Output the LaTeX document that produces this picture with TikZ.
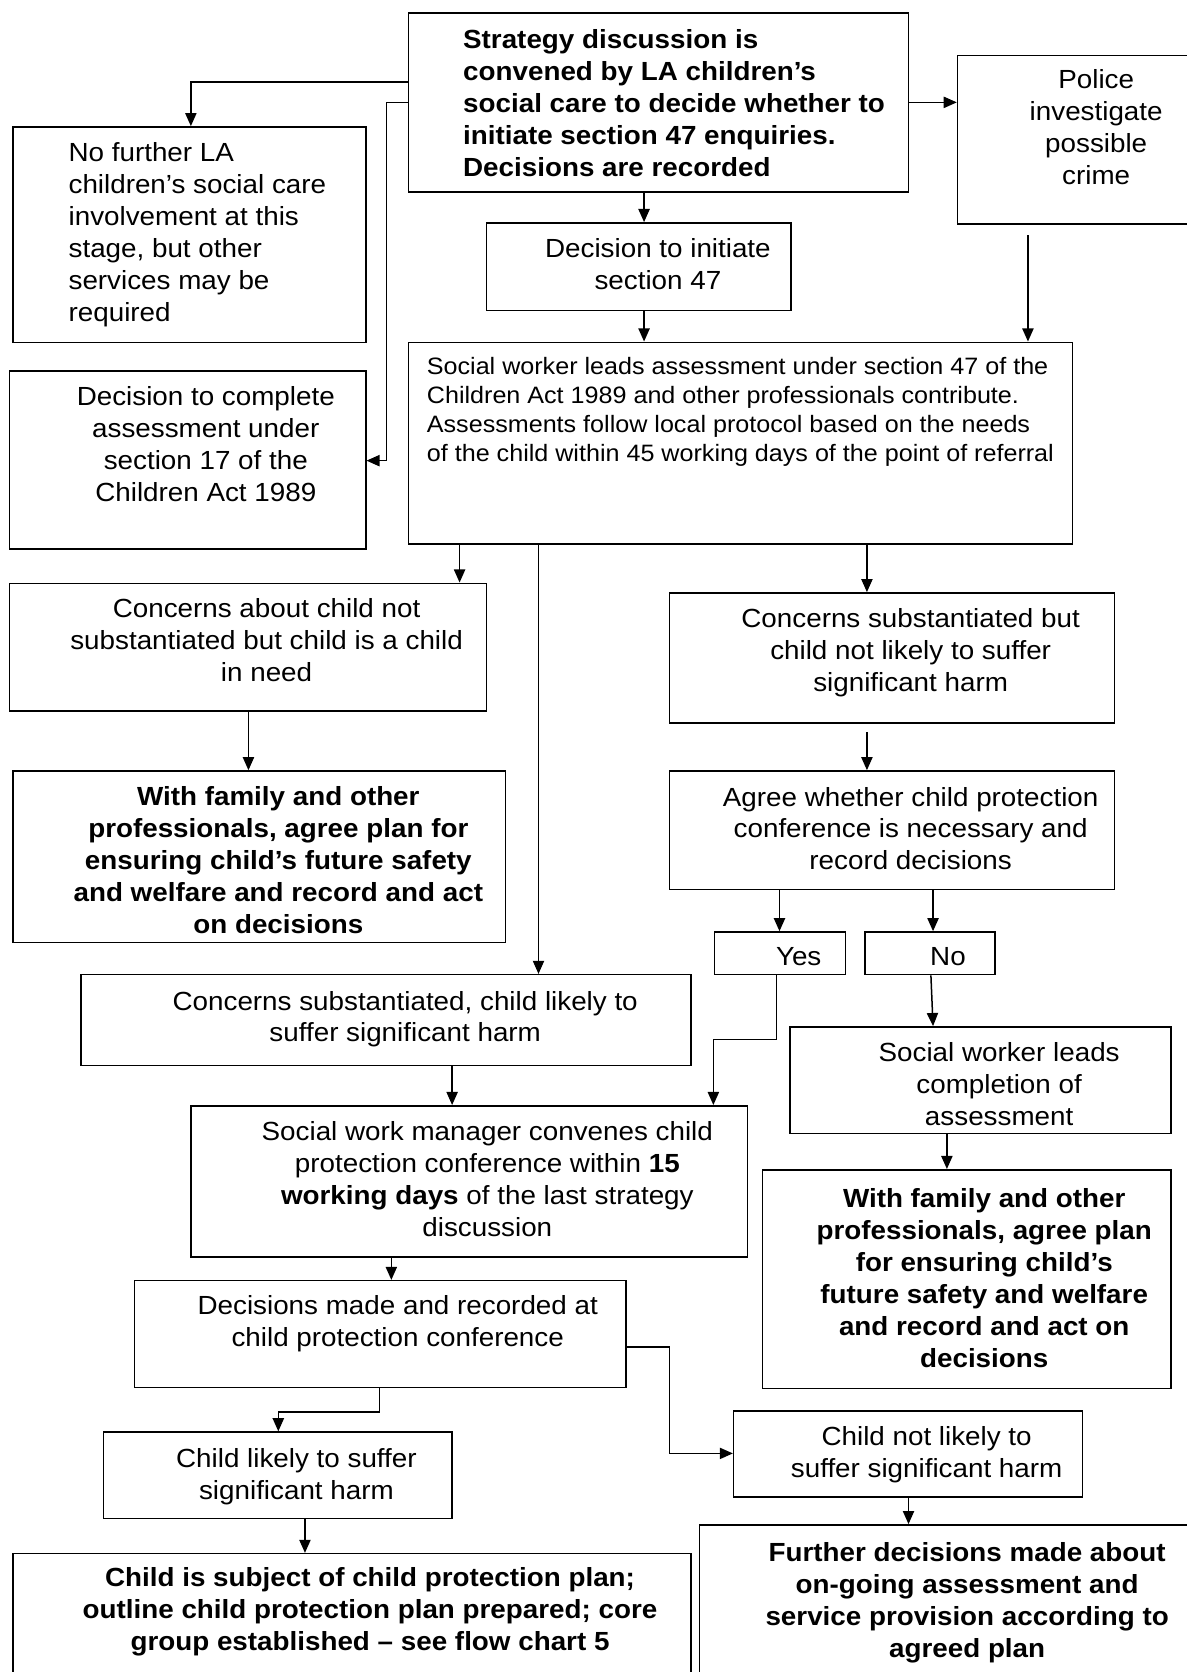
\documentclass[tikz,border=0pt]{standalone}
\usepackage{fontspec}
\setmainfont{Liberation Sans}[FakeStretch=1.06]
\usetikzlibrary{arrows.meta,fit}
\begin{document}
\begin{tikzpicture}[x=0.02cm,y=-0.02cm,
  box/.style={draw, line width=0.8pt, inner sep=0pt, rectangle},
  txt/.style={inner sep=0pt, anchor=north, align=center, font=\fontsize{14}{17.07}\selectfont},
  btxt/.style={txt, font=\fontsize{14}{17.07}\selectfont\bfseries},
  stxt/.style={inner sep=0pt, anchor=north west, align=left, font=\fontsize{12.65}{15.36}\selectfont},
  arr/.style={-{Triangle[length=7pt,width=6pt]}, line width=0.8pt}]
\fill[white] (0,0) rectangle (1113,1568);
\useasboundingbox (0,0) rectangle (1113,1568);

% boxes
\node[box, fit={(383,12) (852,180)}] (S) {};
\node[box, fit={(898,52) (1130,210)}] (P) {};
\node[box, fit={(12,119) (343,321)}] (NF) {};
\node[box, fit={(456,209) (742,291)}] (D47) {};
\node[box, fit={(9,348) (343,515)}] (D17) {};
\node[box, fit={(383,321) (1006,510)}] (SW) {};
\node[box, fit={(9,547) (456,667)}] (CN) {};
\node[box, fit={(628,556) (1045,678)}] (CB) {};
\node[box, fit={(12,723) (474,884)}] (WF1) {};
\node[box, fit={(628,723) (1045,834)}] (AG) {};
\node[box, fit={(670,874) (793,914)}] (Yes) {};
\node[box, fit={(811,874) (933,914)}] (No) {};
\node[box, fit={(76,914) (648,999)}] (CS) {};
\node[box, fit={(741,963) (1098,1063)}] (SWC) {};
\node[box, fit={(179,1037) (701,1179)}] (SWM) {};
\node[box, fit={(715,1097) (1098,1302)}] (WF2) {};
\node[box, fit={(126,1201) (587,1301)}] (DM) {};
\node[box, fit={(688,1323) (1015,1404)}] (CNL) {};
\node[box, fit={(97,1343) (424,1424)}] (CL) {};
\node[box, fit={(12,1457) (648,1590)}] (CP) {};
\node[box, fit={(656,1430) (1130,1590)}] (FD) {};

% texts
\node[btxt, anchor=north west, align=left] (S-t) at (434,27) {Strategy discussion is\\convened by LA children’s\\social care to decide whether to\\initiate section 47 enquiries.\\Decisions are recorded};
\node[txt] (P-t) at (1028,65) {Police\\investigate\\possible\\crime};
\node[txt, anchor=north west, align=left] (NF-t) at (64,133) {No further LA\\children’s social care\\involvement at this\\stage, but other\\services may be\\required};
\node[txt] (D47-t) at (617,223) {Decision to initiate\\section 47};
\node[txt] (D17-t) at (193,362) {Decision to complete\\assessment under\\section 17 of the\\Children Act 1989};
\node[stxt] (SW-t) at (400,335) {Social worker leads assessment under section 47 of the\\Children Act 1989 and other professionals contribute.\\Assessments follow local protocol based on the needs\\of the child within 45 working days of the point of referral};
\node[txt] (CN-t) at (250,561) {Concerns about child not\\substantiated but child is a child\\in need};
\node[txt] (CB-t) at (854,570) {Concerns substantiated but\\child not likely to suffer\\significant harm};
\node[btxt] (WF1-t) at (261,737) {With family and other\\professionals, agree plan for\\ensuring child’s future safety\\and welfare and record and act\\on decisions};
\node[txt, font=\fontsize{14}{16.8}\selectfont] (AG-t) at (854,738) {Agree whether child protection\\conference is necessary and\\record decisions};
\node[txt] (Yes-t) at (749,888) {Yes};
\node[txt] (No-t) at (889,888) {No};
\node[txt] (CS-t) at (380,929) {Concerns substantiated, child likely to\\suffer significant harm};
\node[txt] (SWC-t) at (937,977) {Social worker leads\\completion of\\assessment};
\node[txt] (SWM-t) at (457,1051) {Social work manager convenes child\\protection conference within \textbf{15}\\\textbf{working days} of the last strategy\\discussion};
\node[btxt] (WF2-t) at (923,1114) {With family and other\\professionals, agree plan\\for ensuring child’s\\future safety and welfare\\and record and act on\\decisions};
\node[txt] (DM-t) at (373,1215) {Decisions made and recorded at\\child protection conference};
\node[txt] (CNL-t) at (869,1337) {Child not likely to\\suffer significant harm};
\node[txt] (CL-t) at (278,1358) {Child likely to suffer\\significant harm};
\node[btxt] (CP-t) at (347,1470) {Child is subject of child protection plan;\\outline child protection plan prepared; core\\group established – see flow chart 5};
\node[btxt] (FD-t) at (907,1446) {Further decisions made about\\on-going assessment and\\service provision according to\\agreed plan};

% connectors
\draw[arr] (S.west |- 0,77) -| (NF.north -| 179,0);
\draw[arr] (S.west |- 0,96) -- ++(-20,0) |- (D17.east |- 0,432);
\draw[arr] (S.east |- 0,96) -- (P.west |- 0,96);
\draw[arr] (S.south -| 604,0) -- (D47.north -| 604,0);
\draw[arr] (D47.south -| 604,0) -- (SW.north -| 604,0);
\draw[arr] (P.south -| 964,0) ++(0,10) -- (SW.north -| 964,0);
\draw[arr] (SW.south -| 431,0) -- (CN.north -| 431,0);
\draw[arr] (SW.south -| 505,0) -- (CS.north -| 505,0);
\draw[arr] (SW.south -| 813,0) -- (CB.north -| 813,0);
\draw[arr] (CN.south -| 233,0) -- (WF1.north -| 233,0);
\draw[arr] (CB.south -| 813,0) ++(0,8) -- (AG.north -| 813,0);
\draw[arr] (AG.south -| 731,0) -- (Yes.north -| 731,0);
\draw[arr] (AG.south -| 875,0) -- (No.north -| 875,0);
\draw[arr] (Yes.south -| 728,0) |- (669,975) -- (SWM.north -| 669,0);
\draw[arr] (No.south -| 873,0) -- (SWC.north -| 875,0);
\draw[arr] (CS.south -| 424,0) -- (SWM.north -| 424,0);
\draw[arr] (SWC.south -| 888,0) -- (WF2.north -| 888,0);
\draw[arr] (SWM.south -| 367,0) -- (DM.north -| 367,0);
\draw[arr] (DM.east |- 0,1263) -| (628,1363) -- (CNL.west |- 0,1363);
\draw[arr] (DM.south -| 356,0) |- (261,1324) -- (CL.north -| 261,0);
\draw[arr] (CL.south -| 286,0) -- (CP.north -| 286,0);
\draw[arr] (CNL.south -| 852,0) -- (FD.north -| 852,0);
\end{tikzpicture}
\end{document}
